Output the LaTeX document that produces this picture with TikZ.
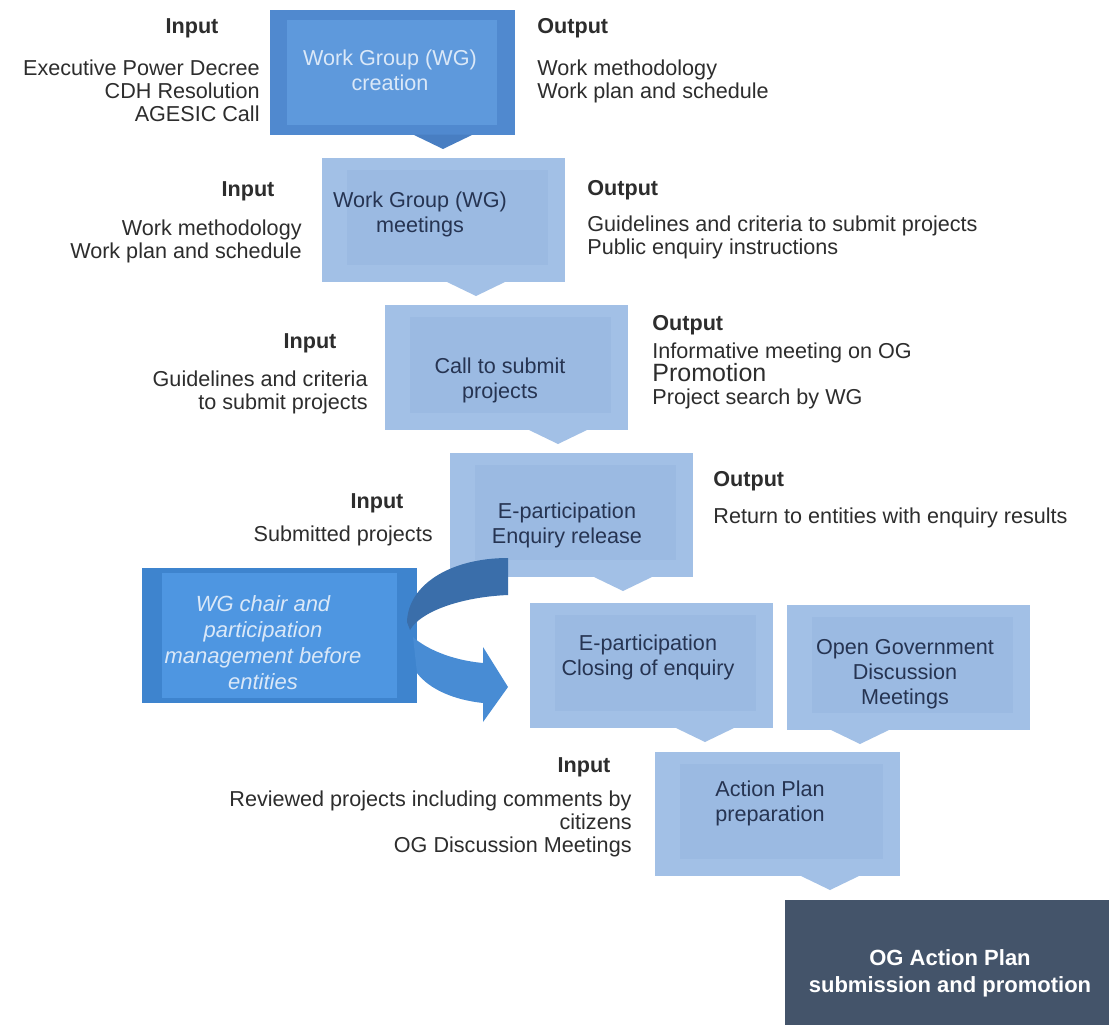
\documentclass[tikz,border=0pt]{standalone}
\usepackage{fontspec}
\setmainfont{Liberation Sans}
\usetikzlibrary{positioning}
\definecolor{deepblue}{RGB}{80,137,207}
\definecolor{deeppanel}{RGB}{94,153,220}
\definecolor{deeptip}{RGB}{72,126,194}
\definecolor{paleblue}{RGB}{162,192,230}
\definecolor{palepanel}{RGB}{155,186,226}
\definecolor{chairblue}{RGB}{62,132,206}
\definecolor{chairpanel}{RGB}{78,150,225}
\definecolor{slate}{RGB}{68,84,106}
\definecolor{bendtop}{RGB}{58,110,170}
\definecolor{bendlow}{RGB}{72,140,212}
\definecolor{ink}{RGB}{45,45,45}
\definecolor{navyink}{RGB}{38,52,82}
\definecolor{frost}{RGB}{218,232,248}

\newcommand{\sidefont}{\fontsize{10.8}{11.5}\selectfont\lineskiplimit=-20pt}
\newcommand{\titlefont}{\fontsize{10.8}{11.5}\selectfont\bfseries}
\newcommand{\boxfont}{\fontsize{10.8}{12.5}\selectfont\lineskiplimit=-20pt}

\begin{document}
\begin{tikzpicture}[
        x=0.5pt, y=-0.5pt,
        every node/.style={inner sep=0pt},
        stage/.style={fill=paleblue, minimum width=121.5pt, minimum height=62.5pt},
        stagetext/.style={font=\boxfont, text=navyink, align=center},
        intitle/.style={font=\titlefont, text=ink, anchor=base},
        outtitle/.style={font=\titlefont, text=ink, anchor=base west},
        inlist/.style={font=\sidefont, text=ink, align=right, anchor=north east},
        outlist/.style={font=\sidefont, text=ink, align=left, anchor=north west}
    ]
    \fill[white] (0,0) rectangle (1109,1028);
    \useasboundingbox (0,0) rectangle (1109,1028);

    % stage boxes
    \node[stage, fill=deepblue, minimum width=122.5pt] (b1) at (392.5,72.5) {};
    \node[stage, minimum height=62pt] (b2) at (443.5,220) {};
    \node[stage] (b3) at (506.5,367.5) {};
    \node[stage, minimum height=62pt] (b4) at (571.5,515) {};
    \node[stage] (b5) at (651.5,665.5) {};
    \node[stage] (b6) at (908.5,667.5) {};
    \node[stage, minimum width=122.5pt, minimum height=62pt] (b7) at (777.5,814) {};
    \node[stage, fill=slate, minimum width=162pt] (b8) at (947,962.5) {};
    \node[stage, fill=chairblue, minimum width=137.5pt, minimum height=67.5pt] (wg) at (279.5,635.5) {};

    % inner panels
    \fill[deeppanel] ([shift={(8.5pt,-5pt)}]b1.north west) rectangle ([shift={(-9pt,5pt)}]b1.south east);
    \fill[chairpanel] ([shift={(10pt,-2.5pt)}]wg.north west) rectangle ([shift={(-10pt,2.5pt)}]wg.south east);
    \foreach \b in {b2,b3,b4,b5,b6,b7}
        \fill[palepanel] ([shift={(12.5pt,-6pt)}]\b.north west) rectangle ([shift={(-8.5pt,8.5pt)}]\b.south east);

    % pointers under the boxes
    \coordinate (t1) at (443,149);
    \coordinate (t2) at (476,296);
    \coordinate (t3) at (558,444);
    \coordinate (t4) at (623,591);
    \coordinate (t5) at (705,742);
    \coordinate (t6) at (860,744);
    \coordinate (t7) at (830,890);
    \foreach \t/\c in {t1/deeptip, t2/paleblue, t3/paleblue, t4/paleblue, t5/paleblue, t6/paleblue, t7/paleblue}
        \fill[\c] (\t) -- ++(-30,-14.5) -- ++(60,0) -- cycle;

    % curved arrow
    \fill[bendtop] (508,558) .. controls (450,558) and (408,585) .. (407,622)
        -- (410,630) .. controls (420,612) and (460,597) .. (508,595) -- cycle;
    \fill[bendlow] (413,637) .. controls (425,648) and (450,660) .. (483,663)
        -- (483,647) -- (508,687) -- (483,722) -- (483,703)
        .. controls (455,700) and (430,690) .. (417,673) -- cycle;

    % box texts
    \node[stagetext, text=frost] (b1t) at (390,70) {Work Group (WG)\\creation};
    \node[stagetext] (b2t) at (420,214) {Work Group (WG)\\meetings};
    \node[stagetext] (b3t) at (500,380) {Call to submit\\projects};
    \node[stagetext] (b4t) at (567,525) {E-participation\\Enquiry release};
    \node[stagetext] (b5t) at (648,657) {E-participation\\Closing of enquiry};
    \node[stagetext] (b6t) at (905,674) {Open Government\\Discussion\\Meetings};
    \node[stagetext] (b7t) at (770,803) {Action Plan\\preparation};
    \node[stagetext, text=white, font=\fontsize{11}{13.5}\selectfont\bfseries] (b8t) at (950,973)
        {OG Action Plan\\submission and promotion};
    \node[stagetext, text=frost, font=\fontsize{11}{13}\selectfont\itshape] (wgt) at (263,643)
        {WG chair and\\participation\\management before\\entities};

    % inputs and outputs
    \node[intitle] (in1) at (192,33) {Input};
    \node[inlist] (in1l) at (260,59) {Executive Power Decree\\CDH Resolution\\AGESIC Call};
    \node[outtitle] (out1) at (537,33) {Output};
    \node[outlist] (out1l) at (537,59) {Work methodology\\Work plan and schedule};

    \node[intitle] (in2) at (248,196) {Input};
    \node[inlist] (in2l) at (302,219) {Work methodology\\Work plan and schedule};
    \node[outtitle] (out2) at (587,195) {Output};
    \node[outlist] (out2l) at (587,215) {Guidelines and criteria to submit projects\\Public enquiry instructions};

    \node[intitle] (in3) at (310,348) {Input};
    \node[inlist] (in3l) at (368,370) {Guidelines and criteria\\to submit projects};
    \node[outtitle] (out3) at (652,330) {Output};
    \node[outlist] (out3l) at (652,342) {Informative meeting on OG\\{\fontsize{12.5}{11.5}\selectfont Promotion}\\Project search by WG};

    \node[intitle] (in4) at (377,508) {Input};
    \node[inlist] (in4l) at (433,525) {Submitted projects};
    \node[outtitle] (out4) at (713,486) {Output};
    \node[outlist] (out4l) at (713,507) {Return to entities with enquiry results};

    \node[intitle] (in7) at (584,772) {Input};
    \node[inlist] (in7l) at (632,790) {Reviewed projects including comments by\\citizens\\OG Discussion Meetings};
\end{tikzpicture}
\end{document}
